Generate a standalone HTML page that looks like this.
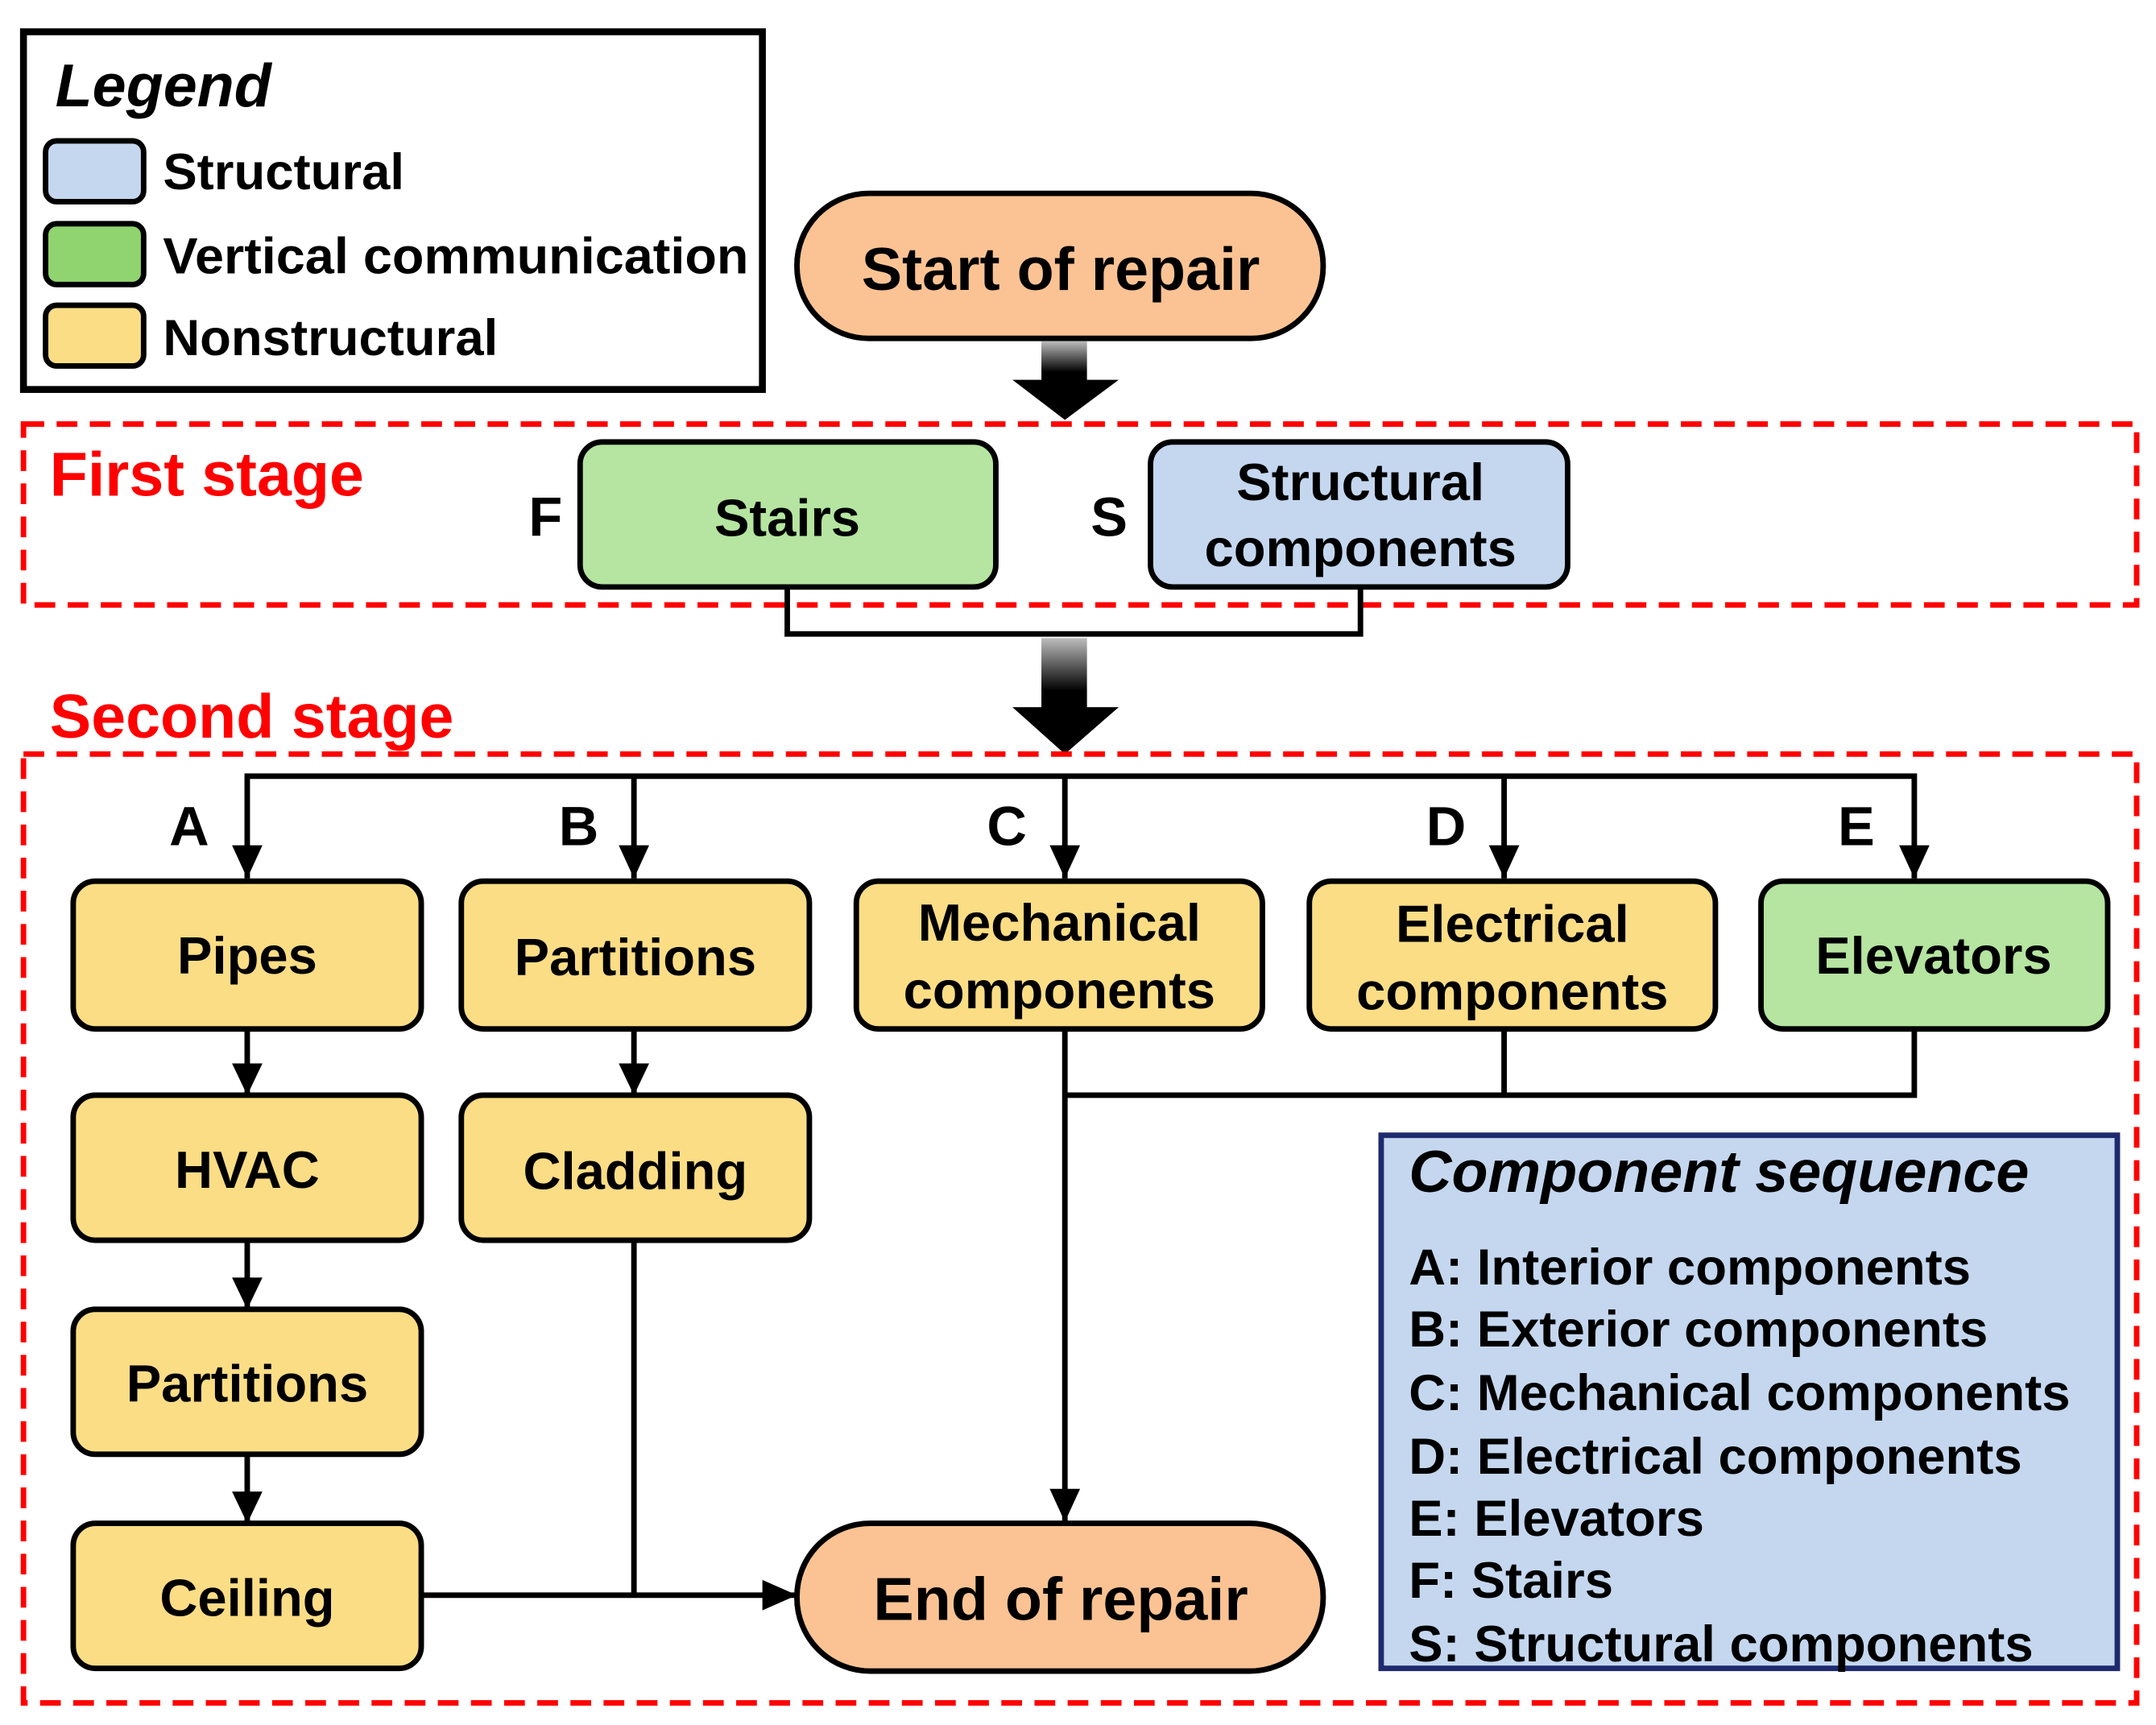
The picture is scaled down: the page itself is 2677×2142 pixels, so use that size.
<!DOCTYPE html>
<html><head><meta charset="utf-8"><style>html,body{margin:0;padding:0;background:#fff}svg{display:block}</style></head><body>
<svg xmlns="http://www.w3.org/2000/svg" width="2677" height="2142" viewBox="0 0 1561 1249" font-family="Liberation Sans, Arial, sans-serif" font-weight="bold">
<defs>
<linearGradient id="g" x1="0" y1="0" x2="0" y2="1"><stop offset="0" stop-color="#bdbdbd"/><stop offset="0.75" stop-color="#000"/><stop offset="1" stop-color="#000"/></linearGradient>
</defs>
<rect width="1561" height="1249" fill="#fff"/>
<!-- Legend -->
<rect x="17" y="23" width="535" height="259" fill="#fff" stroke="#000" stroke-width="5"/>
<text x="40" y="77" font-size="44" font-style="italic">Legend</text>
<rect x="33" y="102" width="71" height="44" rx="8" fill="#c4d7ef" stroke="#000" stroke-width="4"/>
<rect x="33" y="162" width="71" height="44" rx="8" fill="#8fd46e" stroke="#000" stroke-width="4"/>
<rect x="33" y="221" width="71" height="44" rx="8" fill="#fbdd85" stroke="#000" stroke-width="4"/>
<text x="118" y="137" font-size="37">Structural</text>
<text x="118" y="198" font-size="37" textLength="424" lengthAdjust="spacingAndGlyphs">Vertical communication</text>
<text x="118" y="257" font-size="37">Nonstructural</text>
<!-- Start -->
<rect x="577" y="140" width="381" height="105" rx="52" fill="#fbc393" stroke="#000" stroke-width="4"/>
<text x="768" y="210" font-size="44" text-anchor="middle">Start of repair</text>
<rect x="754" y="247" width="33" height="30" fill="url(#g)"/>
<path d="M733,275 L810,275 L771,304 z" fill="#000"/>
<!-- First stage -->
<rect x="17" y="307" width="1530" height="131" fill="none" stroke="#f00" stroke-width="4" stroke-dasharray="15,9"/>
<text x="36" y="359" font-size="45" fill="#f00">First stage</text>
<text x="395" y="388" font-size="40" text-anchor="middle">F</text>
<rect x="420" y="320" width="301" height="105" rx="16" fill="#b5e5a0" stroke="#000" stroke-width="4"/>
<text x="570" y="388" font-size="38" text-anchor="middle">Stairs</text>
<text x="803" y="388" font-size="40" text-anchor="middle">S</text>
<rect x="833" y="320" width="302" height="105" rx="16" fill="#c4d7ef" stroke="#000" stroke-width="4"/>
<text x="985" y="362" font-size="38" text-anchor="middle">Structural</text>
<text x="985" y="410" font-size="38" text-anchor="middle">components</text>
<path d="M570,425 V459 H985 V425" fill="none" stroke="#000" stroke-width="4"/>
<rect x="754" y="462" width="33" height="51" fill="url(#g)"/>
<path d="M733,512 L810,512 L771,546 z" fill="#000"/>
<!-- Second stage -->
<text x="36" y="534" font-size="45" fill="#f00">Second stage</text>
<rect x="17" y="546" width="1530" height="687" fill="none" stroke="#f00" stroke-width="4" stroke-dasharray="15,9"/>
<g stroke="#000" stroke-width="4" fill="none">
<path d="M179,636 V562 H1386 V636"/>
<path d="M459,562 V636 M771,562 V636 M1089,562 V636"/>
<path d="M179,745 V793 M179,898 V948 M179,1053 V1103 M459,745 V793"/>
<path d="M771,745 V1102 M771,793 H1386 V745 M1089,745 V793"/>
<path d="M459,898 V1155 M305,1155 H576"/>
</g>
<g fill="#000">
<path d="M168,612 L190,612 L179,636 z"/><path d="M448,612 L470,612 L459,636 z"/><path d="M760,612 L782,612 L771,636 z"/><path d="M1078,612 L1100,612 L1089,636 z"/><path d="M1375,612 L1397,612 L1386,636 z"/>
<path d="M168,770 L190,770 L179,793 z"/><path d="M168,925 L190,925 L179,948 z"/><path d="M168,1080 L190,1080 L179,1103 z"/><path d="M448,770 L470,770 L459,793 z"/>
<path d="M760,1078 L782,1078 L771,1102 z"/><path d="M552,1144 L552,1166 L577,1155 z"/>
</g>
<g font-size="40" text-anchor="middle"><text x="137" y="612">A</text><text x="419" y="612">B</text><text x="729" y="612">C</text><text x="1047" y="612">D</text><text x="1344" y="612">E</text></g>
<g stroke="#000" stroke-width="4">
<rect x="53" y="638" width="252" height="107" rx="16" fill="#fbdd85"/>
<rect x="334" y="638" width="252" height="107" rx="16" fill="#fbdd85"/>
<rect x="620" y="638" width="294" height="107" rx="16" fill="#fbdd85"/>
<rect x="948" y="638" width="294" height="107" rx="16" fill="#fbdd85"/>
<rect x="1275" y="638" width="251" height="107" rx="16" fill="#b5e5a0"/>
<rect x="53" y="793" width="252" height="105" rx="16" fill="#fbdd85"/>
<rect x="53" y="948" width="252" height="105" rx="16" fill="#fbdd85"/>
<rect x="53" y="1103" width="252" height="105" rx="16" fill="#fbdd85"/>
<rect x="334" y="793" width="252" height="105" rx="16" fill="#fbdd85"/>
<rect x="577" y="1103" width="381" height="107" rx="53" fill="#fbc393"/>
</g>
<g font-size="38" text-anchor="middle">
<text x="179" y="705">Pipes</text><text x="460" y="706">Partitions</text>
<text x="767" y="681">Mechanical</text><text x="767" y="730">components</text>
<text x="1095" y="682">Electrical</text><text x="1095" y="731">components</text>
<text x="1400" y="705">Elevators</text>
<text x="179" y="860">HVAC</text><text x="179" y="1015">Partitions</text><text x="179" y="1170">Ceiling</text>
<text x="460" y="861">Cladding</text>
</g>
<text x="768" y="1173" font-size="44" text-anchor="middle">End of repair</text>
<!-- Component sequence -->
<rect x="1000" y="822" width="533" height="386" fill="#c4d7ef" stroke="#1f2a6e" stroke-width="4"/>
<text x="1020" y="863" font-size="43" font-style="italic">Component sequence</text>
<g font-size="37">
<text x="1020" y="930">A: Interior components</text>
<text x="1020" y="975">B: Exterior components</text>
<text x="1020" y="1021">C: Mechanical components</text>
<text x="1020" y="1067">D: Electrical components</text>
<text x="1020" y="1112">E: Elevators</text>
<text x="1020" y="1157">F: Stairs</text>
<text x="1020" y="1203">S: Structural components</text>
</g>
</svg>
</body></html>
